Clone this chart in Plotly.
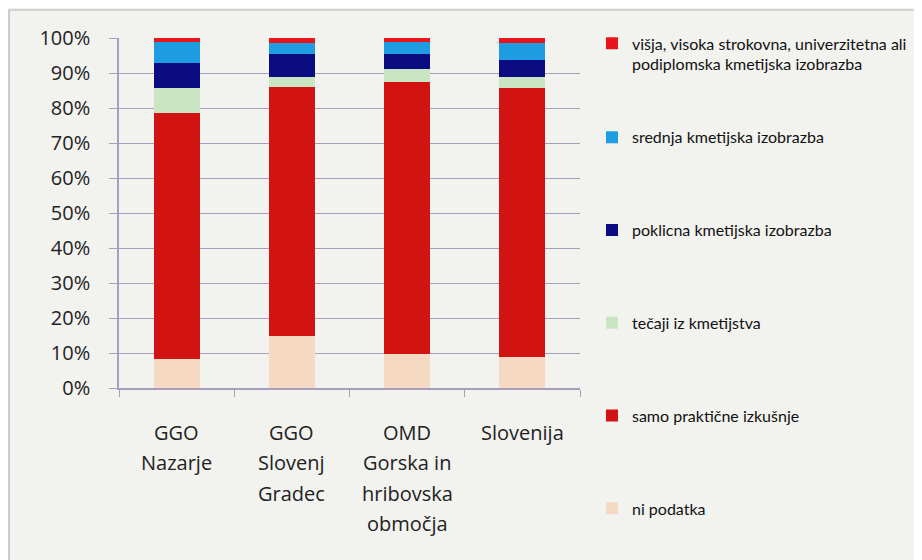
import plotly.graph_objects as go

categories = ["GGO Nazarje", "GGO Slovenj Gradec", "OMD Gorska in hribovska območja", "Slovenija"]
label_lines = [["GGO", "Nazarje"], ["GGO", "Slovenj", "Gradec"], ["OMD", "Gorska in", "hribovska", "območja"], ["Slovenija"]]

series_names = [
    "ni podatka",
    "samo praktične izkušnje",
    "tečaji iz kmetijstva",
    "poklicna kmetijska izobrazba",
    "srednja kmetijska izobrazba",
    "višja, visoka strokovna, univerzitetna ali<br>podiplomska kmetijska izobrazba",
]
ni_podatka = [8.3, 14.9, 9.7, 8.9]
samo_prakticne = [70.3, 71.1, 77.7, 76.8]
tecaji = [7.1, 2.9, 3.7, 3.2]
poklicna = [7.2, 6.5, 4.3, 4.8]
srednja = [6.0, 3.2, 3.5, 4.9]
visja = [1.1, 1.4, 1.1, 1.4]
series_values = [ni_podatka, samo_prakticne, tecaji, poklicna, srednja, visja]
colors = ["#F5D9C3", "#D11411", "#C9E5C2", "#0B0C82", "#1E9DE2", "#E8151B"]

y_ticks = list(range(0, 101, 10))
y_tick_labels = [f"{v}%" for v in y_ticks]

fig = go.Figure()
n = len(series_names)
for i, (name, vals, col) in enumerate(zip(series_names, series_values, colors)):
    fig.add_trace(go.Bar(
        x=categories, y=vals, name=name, marker=dict(color=col, line=dict(width=0)),
        legendgroup=f"g{i}", legendrank=100 * (n - i), width=0.4,
        legend="legend2" if i == n - 1 else "legend",
    ))

for cat, lines in zip(categories, label_lines):
    for j, line in enumerate(lines):
        fig.add_annotation(
            x=cat, xref="x", y=0, yref="paper", yanchor="middle",
            yshift=-44 - 30.5 * j, text=line, showarrow=False,
            font=dict(family="Open Sans, Lato, sans-serif", size=20, color="#222222"),
        )

# outer frame of the chart (plot area is 461 x 350 px)
fig.add_shape(type="rect", xref="paper", yref="paper", x0=-0.2386, x1=1.8, y0=-0.7, y1=1.08,
              line=dict(color="#B4B4BC", width=1.2), fillcolor="rgba(0,0,0,0)", layer="below")

legend_font = dict(family="Lato, sans-serif", size=16, color="#111111")
fig.update_layout(
    width=922, height=560,
    barmode="stack",
    paper_bgcolor="#F2F2EF",
    plot_bgcolor="#F2F2EF",
    margin=dict(l=111, r=350, t=30, b=180, autoexpand=False),
    font=dict(family="Open Sans, sans-serif", color="#222222"),
    showlegend=True,
    legend=dict(
        x=1.026, xanchor="left", y=0.765, yanchor="top",
        traceorder="grouped", tracegroupgap=69, valign="top",
        font=legend_font, itemwidth=30, bgcolor="rgba(0,0,0,0)", maxheight=2000,
    ),
    legend2=dict(
        x=1.026, xanchor="left", y=1.033, yanchor="top",
        valign="top", font=legend_font, itemwidth=30, bgcolor="rgba(0,0,0,0)",
    ),
    xaxis=dict(
        type="category", showticklabels=False, ticks="outside", tickson="boundaries",
        ticklen=7, tickcolor="#A89CBF", showline=True, linecolor="#A89CBF", linewidth=1.5,
        showgrid=False, fixedrange=True,
    ),
    yaxis=dict(
        range=[0, 100], tickvals=y_ticks, ticktext=y_tick_labels, ticks="outside", ticklen=8,
        tickcolor="#A89CBF", showline=True, linecolor="#A89CBF", linewidth=1.5,
        gridcolor="#A89CBF", gridwidth=1.2, zeroline=False, ticklabelstandoff=15,
        tickfont=dict(family="Open Sans, sans-serif", size=20, color="#222222"),
    ),
)

fig.write_html("out.html")
